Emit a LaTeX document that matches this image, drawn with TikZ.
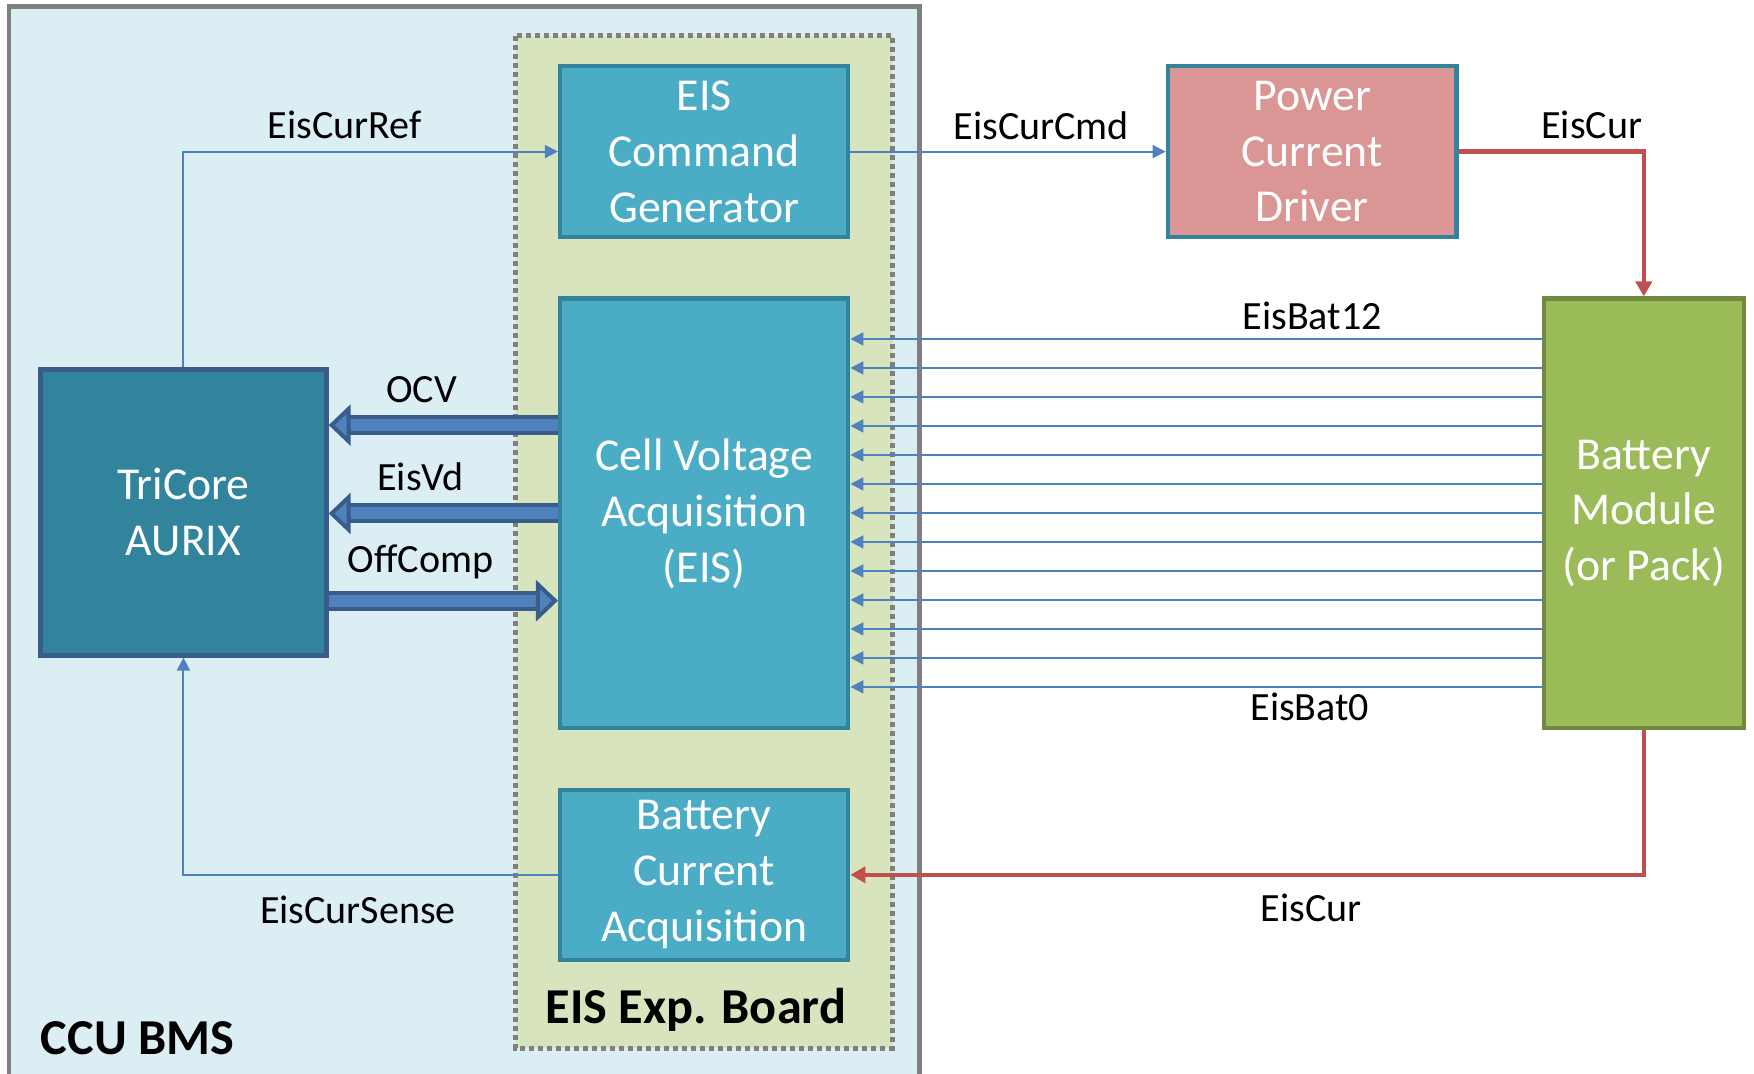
\documentclass[tikz,border=0pt]{standalone}
\usepackage{fontspec}
\setmainfont{Carlito}
\usetikzlibrary{arrows.meta,positioning,calc}

\definecolor{ccufill}{HTML}{DAEEF3}
\definecolor{grayln}{HTML}{7F7F7F}
\definecolor{boardfill}{HTML}{D7E4BD}
\definecolor{eisfill}{HTML}{4BACC6}
\definecolor{eisline}{HTML}{31849B}
\definecolor{cpuline}{HTML}{385D8A}
\definecolor{drvfill}{HTML}{D99694}
\definecolor{batfill}{HTML}{9BBB59}
\definecolor{batline}{HTML}{71893F}
\definecolor{sigblue}{HTML}{4F81BD}
\definecolor{curred}{HTML}{C0504D}

\begin{document}
\begin{tikzpicture}[
    x=0.11186mm, y=-0.11186mm,
    blk/.style={draw=eisline, line width=0.45mm, fill=eisfill, text=white, align=center, inner sep=0pt, minimum width=28.8mm, font=\fontsize{13}{15.9}\selectfont},
    lbl/.style={inner sep=0pt, font=\fontsize{11.4}{13.7}\selectfont},
    ttl/.style={inner sep=0pt, font=\fontsize{14.3}{17}\selectfont\bfseries},
    sig/.style={draw=sigblue, line width=0.55pt, -{Triangle[length=1.3mm, width=1.3mm]}},
    cur/.style={draw=curred, line width=1.3pt, -{Triangle[length=1.5mm, width=1.6mm]}},
    fat/.style={draw=cpuline, line width=0.4mm, double=sigblue, double distance=1.2mm, -{Triangle[length=2.2mm, width=4.1mm, line width=0.4mm, fill=sigblue]}}
]
\useasboundingbox (0,0) rectangle (1568,960);
\clip (0,0) rectangle (1568,960);

% CCU and expansion board
\draw[grayln, line width=0.45mm, fill=ccufill] (8,6) rectangle (822,990);
\draw[grayln, line width=0.5mm, dash pattern=on 0.5mm off 0.4mm, fill=boardfill] (461,32) rectangle (798,937);
\node[ttl, anchor=west] (ccu) at (36,928) {CCU BMS};
\node[ttl] (brd) at (622,903) {EIS Exp. Board};

% blocks
\node[blk, minimum height=17.1mm] (cmd) at (629.5,135.5) {EIS\\Command\\Generator};
\node[blk, minimum height=42.95mm] (cva) at (629.5,459) {Cell Voltage\\Acquisition\\(EIS)};
\node[blk, minimum height=17mm] (bca) at (629.5,782) {Battery\\Current\\Acquisition};
\node[blk, fill=eisline, draw=cpuline, minimum width=28.6mm, minimum height=28.6mm] (tri) at (164,458) {TriCore\\AURIX};
\node[blk, fill=drvfill, minimum width=28.85mm, minimum height=17.1mm] (pcd) at (1173,135.5) {Power\\Current\\Driver};
\node[blk, fill=batfill, draw=batline, minimum width=20mm, minimum height=42.95mm] (bat) at (1469.5,459) {Battery\\Module\\(or Pack)};

% labels
\node[lbl] (lref) at (308,112) {EisCurRef};
\node[lbl] (lcmd) at (931,112) {EisCurCmd};
\node[lbl] (lcurtop) at (1423,112) {EisCur};
\node[lbl] (lbat12) at (1173,282) {EisBat12};
\node[lbl] (lbat0) at (1171,632) {EisBat0};
\node[lbl] (lcurbot) at (1172,812) {EisCur};
\node[lbl] (lsense) at (320,813) {EisCurSense};
\node[lbl] (locv) at (377,348) {OCV};
\node[lbl] (lvd) at (376,426) {EisVd};
\node[lbl] (loff) at (376,502) {OffComp};

% connectors
\draw[sig] (tri.north) |- (cmd.west);
\draw[sig] (cmd.east) -- (pcd.west);
\draw[cur] (pcd.east) -| (bat.north);
\draw[cur] (bat.south) |- (bca.east);
\draw[sig] (bca.west) -| (tri.south);
\foreach \i [evaluate=\i as \y using 303+25.92*\i] in {0,...,12}
  \draw[sig] (bat.west |- 0,\y) -- (cva.east |- 0,\y);
\draw[fat] (cva.west |- 0,380) -- (tri.east |- 0,380);
\draw[fat] (cva.west |- 0,459) -- (tri.east |- 0,459);
\draw[fat] (tri.east |- 0,537) -- (cva.west |- 0,537);
\end{tikzpicture}
\end{document}
